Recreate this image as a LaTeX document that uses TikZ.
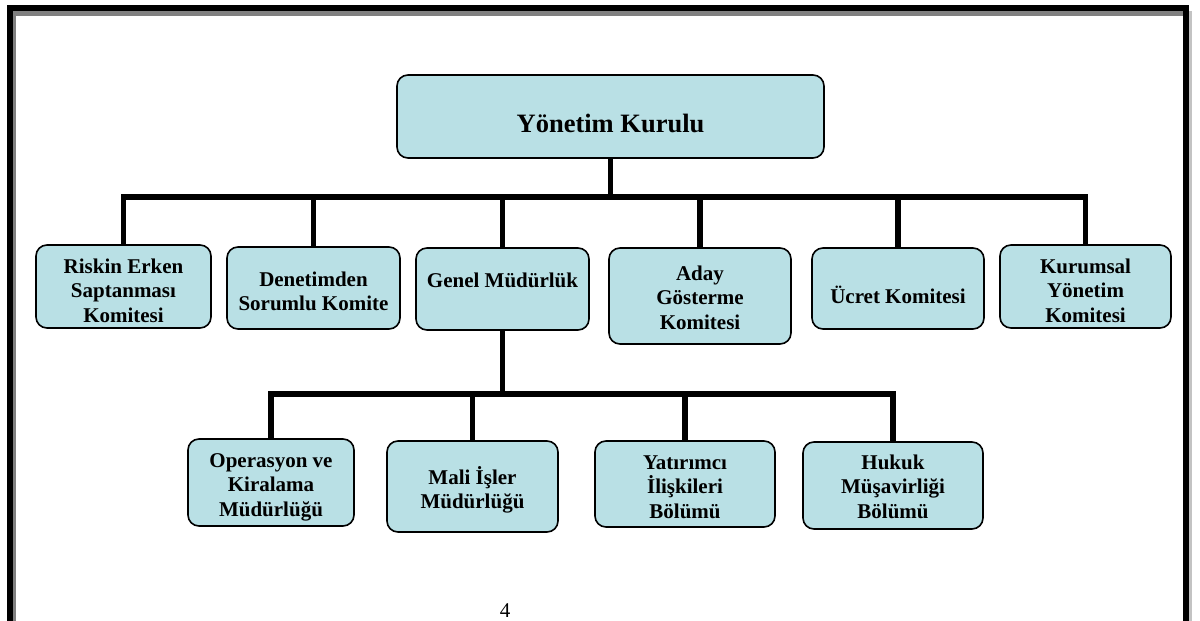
\documentclass[tikz,border=0pt]{standalone}
\usepackage{fontspec}
\setmainfont{Liberation Serif}
\definecolor{boxfill}{RGB}{185,224,229}
\definecolor{shadeA}{RGB}{128,128,128}
\definecolor{shadeB}{RGB}{195,195,195}
\tikzset{
  boxst/.style={draw=black, line width=1.6pt, fill=boxfill, rounded corners=11pt, inner sep=0pt, outer sep=0pt},
  txtst/.style={inner sep=0pt, font=\fontsize{21}{24.5}\selectfont\bfseries},
  conn/.style={line width=5.5pt, draw=black},
}
\newcommand\stk[1]{\vtop{\lineskiplimit=-99pt\halign{\hfil##\hfil\cr#1\crcr}}}
% name, x1, y1, x2, y2, first baseline, text
\newcommand\orgbox[7]{%
  \node[boxst, minimum width={#4-#2}, minimum height={#5-#3}] (#1) at ({(#2+#4)/2},{(#3+#5)/2}) {};
  \node[txtst, anchor=base] (#1-t) at ({(#2+#4)/2},#6) {\stk{#7}};%
}
\begin{document}
\begin{tikzpicture}[x=1pt,y=-1pt]
\useasboundingbox (0,0) rectangle (1200,621);
\clip (0,0) rectangle (1200,621);
% frame
\fill[shadeB] (1189,11) rectangle (1192,700);
\fill[shadeA] (13,11) rectangle (1183,16);
\fill[shadeA] (13,11) rectangle (15.5,700);
\draw[line width=6pt] (10,700) -- (10,8) -- (1186,8) -- (1186,700);
% top
\node[boxst, minimum width=427, minimum height=83] (yk) at (610.5,116.5) {};
\node[txtst, font=\fontsize{26.5}{30}\selectfont\bfseries, anchor=base] (yk-t) at (610.5,132) {Yönetim Kurulu};
% row 1
\orgbox{r1}{36}{245}{211}{328}{273}{Riskin Erken\cr Saptanması\cr Komitesi}
\orgbox{r2}{227}{247}{400}{329}{286}{Denetimden\cr Sorumlu Komite}
\orgbox{gm}{416}{248}{589}{330}{287}{Genel Müdürlük}
\orgbox{r4}{609}{248}{791}{344}{280}{Aday\cr Gösterme\cr Komitesi}
\orgbox{r5}{812}{248}{984}{329}{303}{Ücret Komitesi}
\orgbox{r6}{1000}{245}{1171}{328}{273}{Kurumsal\cr Yönetim\cr Komitesi}
% row 2
\orgbox{o1}{188}{439}{354}{526}{467}{Operasyon ve\cr Kiralama\cr Müdürlüğü}
\orgbox{o2}{387}{441}{558}{532}{484}{Mali İşler\cr Müdürlüğü}
\orgbox{o3}{595}{441}{775}{527}{469}{Yatırımcı\cr İlişkileri\cr Bölümü}
\orgbox{o4}{803}{442}{983}{529}{469}{Hukuk\cr Müşavirliği\cr Bölümü}
% connectors
\coordinate (bar1) at (613,197);
\coordinate (bar2) at (507,394);
\draw[conn] (yk.south) -- (yk.south |- bar1);
\draw[conn, line cap=rect] (r1.north |- bar1) -- (r6.north |- bar1);
\foreach \n in {r1,r2,gm,r4,r5,r6}{\draw[conn] (\n.north) -- (\n.north |- bar1);}
\draw[conn] (gm.south) -- (gm.south |- bar2);
\draw[conn, line cap=rect] (o1.north |- bar2) -- (o4.north |- bar2);
\foreach \n in {o1,o2,o3,o4}{\draw[conn] (\n.north) -- (\n.north |- bar2);}
% page number
\node[inner sep=0pt, font=\fontsize{21}{24}\selectfont, anchor=base] (pg) at (505,617) {4};
\end{tikzpicture}
\end{document}
